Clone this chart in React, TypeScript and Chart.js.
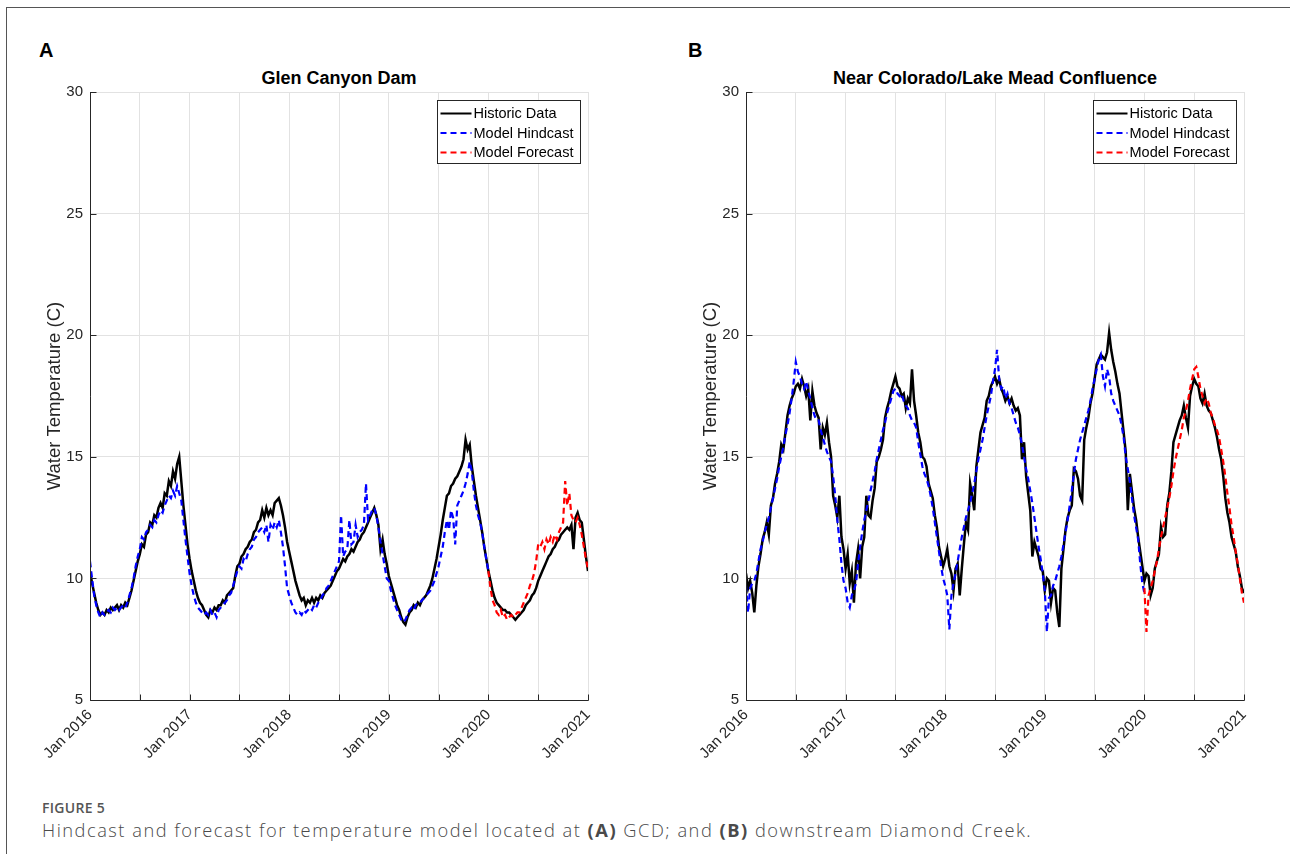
import React, { useEffect, useRef } from 'react';
import { Chart, registerables } from 'chart.js';

Chart.register(...registerables);

const FONT = "'Liberation Sans', Arial, Helvetica, sans-serif";
const START_YEAR = 2016;
const SAMPLES_PER_YEAR = 48;
const FORECAST_START = 192; // sample index of Jan 2020

const xTickValues = [2016, 2016.5, 2017, 2017.5, 2018, 2018.5, 2019, 2019.5, 2020, 2020.5, 2021];
const yTickValues = [5, 10, 15, 20, 25, 30];
const seriesLabels = ['Historic Data', 'Model Hindcast', 'Model Forecast'];
const seriesColors = ['#000000', '#0000ff', '#ff0000'];
const panelTitles = ['Glen Canyon Dam', 'Near Colorado/Lake Mead Confluence'];
const panelLetters = ['A', 'B'];

// Panel A: Glen Canyon Dam (samples every 1/48 year from Jan 2016)
const gcdHistoric = [
  10.3, 9.8, 9.4, 9.0, 8.7, 8.5, 8.6, 8.5, 8.7, 8.6, 8.8, 8.7, 8.8, 8.9, 8.7, 8.9, 8.8, 9.0, 8.9, 9.2, 9.5, 9.9, 10.3, 10.7,
  11.0, 11.4, 11.3, 11.8, 11.9, 12.3, 12.2, 12.6, 12.5, 12.9, 13.1, 12.9, 13.5, 13.4, 14.0, 13.8, 14.4, 14.1, 14.7, 15.0, 14.0, 13.0, 12.2, 11.4,
  10.8, 10.3, 9.9, 9.5, 9.2, 9.0, 8.9, 8.7, 8.5, 8.4, 8.7, 8.6, 8.8, 8.7, 8.9, 8.9, 9.1, 9.0, 9.3, 9.4, 9.5, 9.6, 10.1, 10.5,
  10.6, 10.9, 11.0, 11.2, 11.3, 11.5, 11.6, 11.9, 12.0, 12.3, 12.4, 12.8, 12.5, 12.9, 12.6, 12.8, 12.6, 13.1, 13.2, 13.3, 13.0, 12.6, 12.1, 11.5,
  11.1, 10.7, 10.3, 9.9, 9.6, 9.3, 9.1, 9.2, 8.9, 9.1, 9.0, 9.2, 9.0, 9.2, 9.1, 9.3, 9.2, 9.4, 9.5, 9.6, 9.7, 9.9, 10.1, 10.3,
  10.4, 10.6, 10.8, 10.7, 10.9, 11.0, 11.2, 11.1, 11.3, 11.5, 11.6, 11.8, 11.9, 12.1, 12.3, 12.5, 12.7, 12.9, 12.6, 12.2, 11.2, 11.6, 11.0, 10.6,
  10.1, 9.8, 9.5, 9.2, 8.9, 8.7, 8.4, 8.2, 8.1, 8.4, 8.6, 8.7, 8.9, 8.8, 9.0, 8.9, 9.1, 9.2, 9.3, 9.5, 9.7, 10.0, 10.4, 10.8,
  11.3, 11.8, 12.4, 12.9, 13.4, 13.5, 13.8, 13.9, 14.1, 14.2, 14.4, 14.6, 14.9, 15.7, 15.3, 15.5, 14.6, 14.0, 13.4, 12.9, 12.4, 11.9, 11.3, 10.8,
  10.3, 9.9, 9.5, 9.2, 9.0, 8.9, 8.8, 8.7, 8.7, 8.6, 8.6, 8.5, 8.4, 8.3, 8.4, 8.5, 8.6, 8.7, 8.9, 9.0, 9.1, 9.3, 9.4, 9.6,
  9.9, 10.1, 10.3, 10.5, 10.7, 10.9, 11.0, 11.2, 11.3, 11.5, 11.6, 11.8, 11.9, 12.0, 12.1, 12.0, 12.2, 11.2, 12.5, 12.7, 12.4, 12.3, 11.6, 10.9,
  10.3,
];
const gcdHindcast = [
  10.7, 10.0, 9.3, 8.9, 8.6, 8.4, 8.6, 8.5, 8.6, 8.7, 8.6, 8.8, 8.7, 8.8, 8.7, 8.8, 8.9, 8.8, 9.0, 9.3, 9.6, 10.0, 10.5, 10.9,
  11.2, 11.7, 11.6, 11.9, 12.0, 12.2, 12.1, 12.4, 12.3, 12.6, 12.8, 12.7, 13.0, 13.2, 13.4, 13.3, 13.6, 13.4, 13.8, 13.5, 13.2, 12.4, 11.6, 10.9,
  10.2, 9.7, 9.3, 9.0, 8.8, 8.7, 8.6, 8.5, 8.6, 8.5, 8.7, 8.5, 8.6, 8.4, 8.7, 8.8, 8.9, 9.0, 9.1, 9.3, 9.4, 9.7, 10.0, 10.3,
  10.5, 10.4, 10.8, 10.7, 11.0, 11.2, 11.3, 11.6, 11.7, 11.9, 12.0, 12.1, 11.9, 12.2, 11.5, 12.2, 12.0, 12.3, 12.1, 12.4, 11.9, 11.3, 10.5, 9.6,
  9.3, 9.0, 8.8, 8.6, 8.5, 8.6, 8.5, 8.7, 8.6, 8.7, 8.8, 8.7, 8.9, 8.8, 9.0, 9.1, 9.3, 9.4, 9.6, 9.7, 9.9, 10.1, 10.3, 10.5,
  10.7, 12.6, 10.9, 11.1, 11.2, 12.4, 11.4, 11.5, 12.2, 11.7, 11.9, 12.0, 12.2, 13.9, 12.4, 12.6, 12.8, 12.9, 12.6, 12.1, 11.5, 11.0, 10.5, 10.0,
  9.9, 9.5, 9.2, 8.9, 8.7, 8.5, 8.3, 8.2, 8.3, 8.5, 8.7, 8.8, 8.7, 8.9, 9.0, 9.0, 9.1, 9.2, 9.3, 9.4, 9.5, 9.7, 9.9, 10.2,
  10.5, 10.9, 11.3, 11.9, 12.4, 12.0, 12.8, 12.5, 11.4, 13.0, 13.2, 13.4, 13.6, 13.9, 14.3, 14.8, 14.4, 13.6, 13.0, 12.6, 12.3, 11.9, 11.3, 10.8,
  10.3,
];
const gcdForecast = [
  10.3, 9.6, 9.1, 8.9, 8.6, 8.5, 8.7, 8.4, 8.5, 8.3, 8.4, 8.5, 8.4, 8.5, 8.6, 8.6, 8.8, 9.0, 9.2, 9.4, 9.7, 9.9, 10.2, 10.7,
  11.4, 11.3, 11.5, 11.2, 11.6, 11.4, 11.7, 11.5, 11.8, 11.6, 11.9, 12.1, 12.3, 14.0, 13.0, 13.5, 12.6, 12.4, 12.3, 12.5, 12.2, 11.8, 11.3, 10.8,
  10.4,
];

// Panel B: near Colorado / Lake Mead confluence
const dcHistoric = [
  10.2, 9.6, 9.9, 9.4, 8.6, 9.7, 10.5, 11.0, 11.6, 11.9, 12.3, 11.8, 13.0, 13.3, 13.9, 14.3, 14.8, 15.5, 15.3, 16.0, 16.7, 17.1, 17.4, 17.6,
  17.9, 18.0, 17.8, 18.2, 17.9, 17.5, 17.8, 16.5, 17.7, 17.1, 16.8, 16.6, 15.3, 16.2, 15.9, 16.4, 15.6, 15.0, 13.4, 13.0, 12.5, 13.4, 11.7, 11.2,
  10.4, 11.0, 9.8, 10.3, 9.0, 10.6, 11.2, 10.0, 11.3, 11.7, 13.4, 12.6, 12.5, 13.2, 13.7, 14.8, 15.0, 15.3, 15.7, 16.6, 17.0, 17.3, 17.7, 18.0,
  18.3, 17.9, 17.8, 17.5, 17.6, 17.0, 17.4, 17.2, 18.6, 17.3, 16.7, 16.0, 15.6, 15.0, 14.9, 14.6, 13.9, 13.6, 13.3, 12.6, 12.1, 11.3, 10.9, 10.5,
  10.8, 11.2, 10.5, 10.2, 9.5, 10.4, 10.6, 9.3, 10.4, 11.4, 12.3, 12.0, 13.9, 13.4, 12.8, 14.6, 15.3, 16.0, 16.3, 16.6, 17.3, 17.5, 17.9, 18.1,
  18.3, 18.0, 18.2, 17.8, 17.6, 17.3, 17.5, 17.2, 17.4, 17.1, 16.9, 17.0, 16.7, 14.9, 15.6, 14.2, 13.5, 12.8, 10.9, 11.5, 11.2, 10.9, 10.4, 10.3,
  9.5, 10.0, 9.9, 9.0, 9.6, 9.5, 8.6, 8.0, 10.4, 11.2, 12.0, 12.5, 12.8, 13.0, 14.5, 14.4, 14.1, 13.4, 13.2, 15.7, 16.2, 16.6, 17.2, 17.6,
  18.2, 18.8, 19.0, 19.2, 19.1, 19.0, 19.3, 20.1, 19.4, 18.9, 18.5, 18.0, 17.6, 16.8, 16.0, 15.2, 12.8, 14.3, 13.6, 12.9, 12.4, 11.7, 11.1, 10.5,
  9.9, 10.2, 10.1, 9.3, 9.6, 10.4, 10.7, 11.0, 12.1, 11.7, 11.8, 13.0, 13.5, 14.4, 15.6, 15.9, 16.2, 16.5, 16.7, 17.1, 16.6, 16.2, 17.5, 17.9,
  18.2, 18.0, 17.9, 17.4, 17.2, 17.6, 17.1, 16.9, 16.8, 16.5, 16.2, 15.8, 15.3, 14.9, 14.2, 13.3, 12.7, 12.3, 11.7, 11.4, 11.1, 10.5, 10.1, 9.6,
  9.4,
];
const dcHindcast = [
  9.7, 8.6, 9.6, 9.8, 9.9, 10.2, 10.7, 11.2, 11.5, 11.9, 12.2, 12.5, 12.9, 13.3, 13.7, 14.1, 14.6, 15.0, 15.4, 15.9, 16.3, 16.8, 17.4, 18.1,
  18.9, 18.5, 18.3, 18.0, 17.8, 18.1, 17.7, 17.4, 17.0, 16.7, 16.5, 16.5, 16.1, 15.8, 15.5, 15.2, 15.0, 14.8, 14.2, 13.4, 12.4, 11.6, 10.6, 9.9,
  9.6, 9.0, 8.8, 9.3, 9.5, 9.8, 10.6, 11.3, 11.9, 12.4, 12.8, 13.2, 13.6, 14.0, 14.4, 14.9, 15.3, 15.7, 16.1, 16.4, 16.8, 17.1, 17.4, 17.7,
  17.8, 17.6, 17.5, 17.6, 17.3, 17.1, 17.0, 16.7, 16.5, 16.4, 16.2, 15.6, 15.1, 14.6, 14.3, 14.1, 13.8, 13.4, 12.9, 12.3, 11.7, 11.1, 10.5, 10.0,
  9.7, 9.3, 7.9, 9.3, 9.8, 10.2, 10.7, 11.2, 11.7, 12.1, 12.5, 12.8, 13.1, 13.5, 13.9, 14.4, 14.9, 15.3, 15.7, 16.2, 16.7, 17.1, 17.5, 18.1,
  18.6, 19.4, 18.2, 17.8, 17.9, 17.4, 17.6, 17.2, 17.0, 16.7, 16.4, 16.2, 15.9, 15.5, 15.0, 14.5, 14.1, 13.6, 13.1, 12.5, 11.9, 11.3, 10.8, 10.2,
  9.5, 7.8, 9.2, 9.3, 9.7, 9.9, 10.2, 10.5, 10.9, 11.4, 11.9, 12.4, 13.0, 13.6, 14.3, 14.9, 15.3, 15.7, 16.0, 16.3, 16.6, 16.9, 17.3, 17.8,
  18.2, 18.6, 19.0, 19.2, 18.3, 17.9, 18.6, 18.3, 17.6, 17.3, 17.1, 16.9, 16.7, 16.3, 15.8, 15.0, 14.5, 14.0, 13.3, 12.6, 12.1, 11.6, 10.6, 9.8,
  9.4,
];
const dcForecast = [
  9.6, 7.8, 9.3, 9.6, 9.9, 10.3, 10.7, 11.2, 11.7, 12.1, 12.5, 12.9, 13.3, 13.8, 14.4, 14.9, 15.3, 15.7, 16.1, 16.6, 16.9, 17.3, 17.8, 18.2,
  18.6, 18.7, 18.3, 17.8, 17.5, 17.2, 17.4, 17.2, 16.8, 16.6, 16.3, 16.1, 15.8, 15.3, 14.8, 14.2, 13.5, 12.9, 12.2, 11.7, 11.1, 10.6, 10.0, 9.4,
  9.0,
];

const toPoints = (values: number[], startIndex: number) =>
  values.map((v, i) => ({ x: START_YEAR + (startIndex + i) / SAMPLES_PER_YEAR, y: v }));

const AXIS_COLOR = '#262626';
const GRID_COLOR = '#e2e2e2';

const matlabDecor = {
  id: 'matlabDecor',
  afterDatasetsDraw(chart: any) {
    const { ctx, chartArea: a, scales } = chart;
    const xs = scales.x;
    const ys = scales.y;
    ctx.save();
    ctx.strokeStyle = AXIS_COLOR;
    ctx.lineWidth = 1;
    ctx.beginPath();
    const L = Math.round(a.left) + 0.5;
    const B = Math.round(a.bottom) + 0.5;
    ctx.moveTo(L, a.top);
    ctx.lineTo(L, B);
    ctx.lineTo(a.right + 0.5, B);
    xs.ticks.forEach((t: any) => {
      const px = Math.round(xs.getPixelForValue(t.value)) + 0.5;
      ctx.moveTo(px, B);
      ctx.lineTo(px, B - 6);
    });
    ys.ticks.forEach((t: any) => {
      const py = Math.round(ys.getPixelForValue(t.value)) + 0.5;
      ctx.moveTo(L, py);
      ctx.lineTo(L + 6, py);
    });
    ctx.stroke();

    // legend box (top-right, inside plot)
    const boxW = 143;
    const boxH = 63;
    const bx = Math.round(a.right - 8 - boxW) + 0.5;
    const by = Math.round(a.top + 8) + 0.5;
    ctx.fillStyle = '#ffffff';
    ctx.fillRect(bx, by, boxW, boxH);
    ctx.strokeStyle = '#262626';
    ctx.lineWidth = 1;
    ctx.strokeRect(bx, by, boxW, boxH);
    ctx.font = `14.5px ${FONT}`;
    ctx.textBaseline = 'middle';
    ctx.textAlign = 'left';
    chart.data.datasets.forEach((ds: any, i: number) => {
      const ry = by + 13 + i * 19.5;
      ctx.beginPath();
      ctx.strokeStyle = ds.borderColor;
      ctx.lineWidth = 2;
      ctx.setLineDash(ds.borderDash || []);
      ctx.moveTo(bx + 3, ry);
      ctx.lineTo(bx + 34, ry);
      ctx.stroke();
      ctx.setLineDash([]);
      ctx.fillStyle = '#000000';
      ctx.fillText(ds.label, bx + 36, ry + 0.5);
    });
    ctx.restore();
  },
};

function Panel(props: {
  left: number;
  letterLeft: number;
  letter: string;
  title: string;
  historic: number[];
  hindcast: number[];
  forecast: number[];
}) {
  const ref = useRef<HTMLCanvasElement>(null);
  useEffect(() => {
    if (!ref.current) return;
    const chart = new Chart(ref.current, {
      type: 'line',
      data: {
        datasets: [
          {
            label: seriesLabels[0],
            data: toPoints(props.historic, 0),
            borderColor: seriesColors[0],
            borderWidth: 2.5,
            pointRadius: 0,
            tension: 0,
            order: 3,
          },
          {
            label: seriesLabels[1],
            data: toPoints(props.hindcast, 0),
            borderColor: seriesColors[1],
            borderWidth: 2.2,
            borderDash: [6, 4],
            pointRadius: 0,
            tension: 0,
            order: 2,
          },
          {
            label: seriesLabels[2],
            data: toPoints(props.forecast, FORECAST_START),
            borderColor: seriesColors[2],
            borderWidth: 2.2,
            borderDash: [6, 4],
            pointRadius: 0,
            tension: 0,
            order: 1,
          },
        ],
      },
      options: {
        animation: false,
        responsive: false,
        devicePixelRatio: 1,
        events: [],
        layout: { padding: { top: 32, right: 22, left: 0, bottom: 0 } },
        plugins: {
          legend: { display: false },
          tooltip: { enabled: false },
          title: { display: false },
        },
        scales: {
          x: {
            type: 'linear',
            min: 2016,
            max: 2021,
            afterBuildTicks: (s: any) => {
              s.ticks = xTickValues.map((v) => ({ value: v }));
            },
            afterFit: (s: any) => {
              s.height = 80;
            },
            ticks: {
              autoSkip: false,
              minRotation: 45,
              maxRotation: 45,
              padding: 6,
              color: AXIS_COLOR,
              font: { family: FONT, size: 15 },
              callback: (v: any) => (Number.isInteger(v) ? `Jan ${v}` : ''),
            },
            grid: { color: GRID_COLOR, drawTicks: false, lineWidth: 1 },
            border: { display: false },
          },
          y: {
            type: 'linear',
            min: 5,
            max: 30,
            afterBuildTicks: (s: any) => {
              s.ticks = yTickValues.map((v) => ({ value: v }));
            },
            afterFit: (s: any) => {
              s.width = 70;
            },
            ticks: {
              padding: 7,
              color: AXIS_COLOR,
              font: { family: FONT, size: 15 },
            },
            grid: { color: GRID_COLOR, drawTicks: false, lineWidth: 1 },
            border: { display: false },
            title: {
              display: true,
              text: 'Water Temperature (C)',
              color: AXIS_COLOR,
              font: { family: FONT, size: 18.5 },
              padding: { top: 24, bottom: 0 },
            },
          },
        },
      },
      plugins: [matlabDecor],
    } as any);
    return () => chart.destroy();
  }, []);

  return (
    <>
      <div
        style={{
          position: 'absolute',
          left: props.letterLeft,
          top: 39,
          font: `bold 20px ${FONT}`,
          color: '#000',
          lineHeight: '22px',
        }}
      >
        {props.letter}
      </div>
      <div
        style={{
          position: 'absolute',
          left: props.left + 70,
          width: 498,
          top: 67,
          textAlign: 'center',
          font: `bold 18px ${FONT}`,
          lineHeight: '22px',
          color: '#000',
        }}
      >
        {props.title}
      </div>
      <canvas
        ref={ref}
        width={590}
        height={720}
        style={{ position: 'absolute', left: props.left, top: 60, width: 590, height: 720 }}
      />
    </>
  );
}

export default function App() {
  return (
    <div
      style={{
        position: 'fixed',
        left: 0,
        top: 0,
        width: 1290,
        height: 854,
        overflow: 'hidden',
        background: '#ffffff',
      }}
    >
      <div
        style={{
          position: 'absolute',
          left: 6,
          top: 7,
          width: 1290,
          height: 860,
          borderTop: '1px solid #555',
          borderLeft: '1px solid #555',
        }}
      />
      <Panel
        left={20}
        letterLeft={39}
        letter={panelLetters[0]}
        title={panelTitles[0]}
        historic={gcdHistoric}
        hindcast={gcdHindcast}
        forecast={gcdForecast}
      />
      <Panel
        left={676}
        letterLeft={688}
        letter={panelLetters[1]}
        title={panelTitles[1]}
        historic={dcHistoric}
        hindcast={dcHindcast}
        forecast={dcForecast}
      />
      <div
        style={{
          position: 'absolute',
          left: 42,
          top: 798,
          font: `600 14px 'Open Sans', sans-serif`,
          color: '#555',
          letterSpacing: '0.3px',
          lineHeight: '20px',
        }}
      >
        FIGURE 5
      </div>
      <div
        style={{
          position: 'absolute',
          left: 42,
          top: 818,
          font: `300 18.3px 'Open Sans', sans-serif`,
          color: '#4a4a4a',
          letterSpacing: '1.5px',
          lineHeight: '24px',
          whiteSpace: 'nowrap',
        }}
      >
        Hindcast and forecast for temperature model located at <b style={{ fontWeight: 700 }}>(A)</b> GCD; and{' '}
        <b style={{ fontWeight: 700 }}>(B)</b> downstream Diamond Creek.
      </div>
    </div>
  );
}
